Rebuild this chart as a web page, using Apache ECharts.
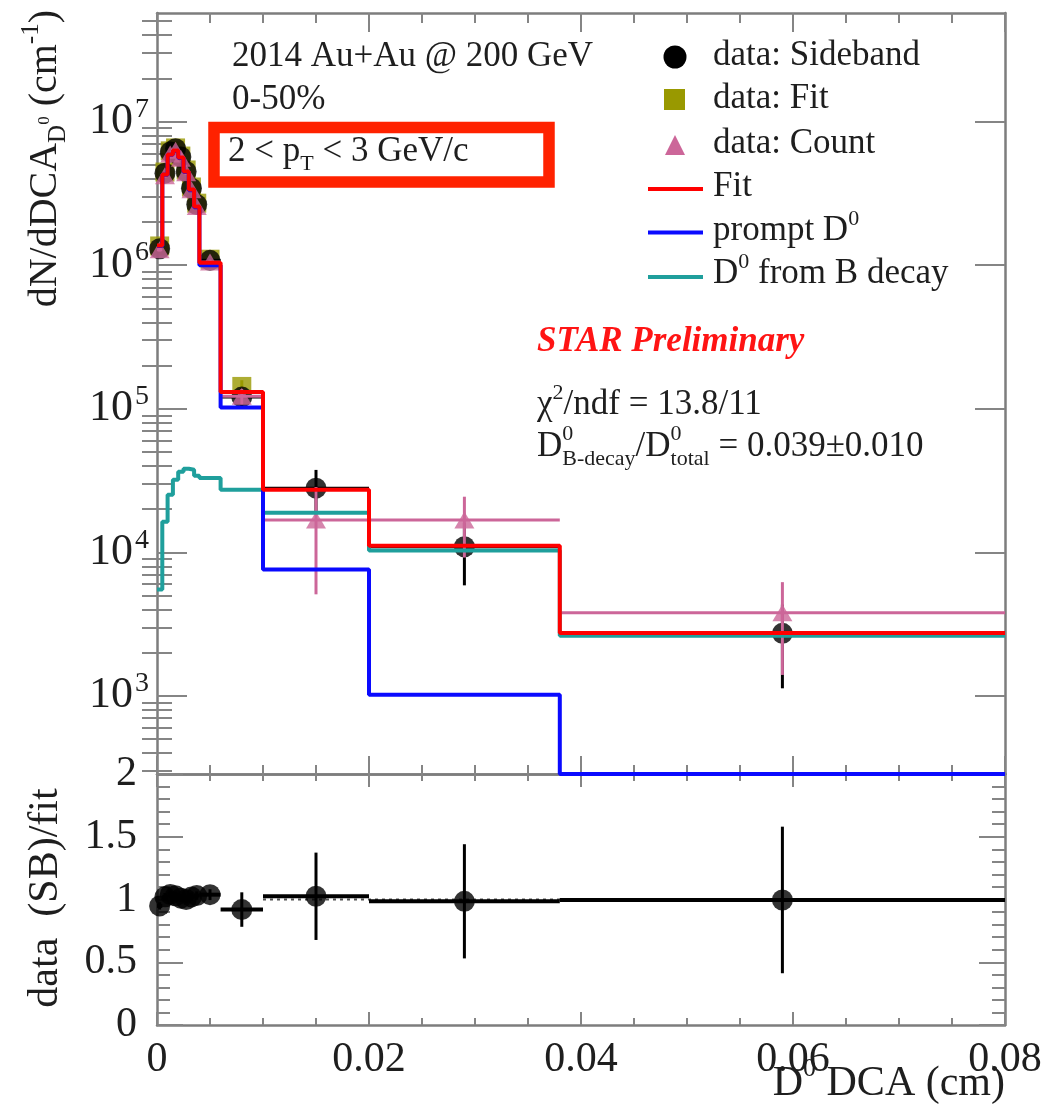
<!DOCTYPE html>
<html>
<head>
<meta charset="utf-8">
<script src="https://cdn.jsdelivr.net/npm/echarts@6.0.0/dist/echarts.min.js"></script>
<style>
html,body{margin:0;padding:0;background:#ffffff;}
#chart{width:1058px;height:1106px;}
</style>
</head>
<body>
<div id="chart"></div>
<script>
// ---------------- data ----------------
const binEdges   = [0, 0.0005, 0.001, 0.0015, 0.002, 0.0025, 0.003, 0.0035, 0.004, 0.006, 0.01, 0.02, 0.038, 0.08];
const binCenters = [0.00025, 0.00075, 0.00125, 0.00175, 0.00225, 0.00275, 0.00325, 0.00375, 0.005, 0.008, 0.015, 0.029, 0.059];

// template fit histograms
const fitTotal  = [1.37e6, 4.28e6, 5.89e6, 6.28e6, 5.61e6, 4.49e6, 3.36e6, 2.56e6, 1.04e6, 1.31e5, 2.73e4, 1.11e4, 2.74e3];
const fitPrompt = [1.36e6, 4.26e6, 5.86e6, 6.24e6, 5.57e6, 4.45e6, 3.32e6, 2.53e6, 1.0e6, 1.02e5, 7.6e3, 1.02e3, 1.2e2];
const fitBDecay = [5.5e3, 1.63e4, 2.52e4, 3.2e4, 3.64e4, 3.82e4, 3.76e4, 3.41e4, 3.3e4, 2.73e4, 1.89e4, 1.03e4, 2.62e3];

// data points
const sidebandVal = [1.30e6, 4.37e6, 6.13e6, 6.47e6, 5.67e6, 4.49e6, 3.43e6, 2.64e6, 1.08e6, 1.205e5, 2.80e4, 1.094e4, 2.73e3];
const sidebandErr = [4.0e4, 1.3e5, 1.8e5, 1.9e5, 1.7e5, 1.4e5, 1.1e5, 8.5e4, 4.5e4, 1.8e4, 9.5e3, 5.05e3, 1.6e3];
const fitDataVal  = [1.36e6, 4.45e6, 6.25e6, 6.55e6, 5.75e6, 4.6e6, 3.5e6, 2.7e6, 1.1e6, 1.43e5, null, null, null];
const fitDataErr  = [3.5e4, 1.2e5, 1.6e5, 1.7e5, 1.5e5, 1.2e5, 1.0e5, 8.0e4, 4.0e4, 1.5e4, null, null, null];
const countVal    = [1.28e6, 4.2e6, 5.95e6, 6.3e6, 5.55e6, 4.4e6, 3.35e6, 2.56e6, 1.05e6, 1.22e5, 1.68e4, 1.68e4, 3.8e3];
const countErr    = [3.5e4, 1.2e5, 1.7e5, 1.8e5, 1.6e5, 1.3e5, 1.0e5, 8.0e4, 4.0e4, 1.5e4, 1.17e4, 7.6e3, 2.4e3];

// axes
const xTicks = [0, 0.02, 0.04, 0.06, 0.08];
const yMajorTicks = [1e3, 1e4, 1e5, 1e6, 1e7];
const ratioTicks = [0, 0.5, 1, 1.5, 2];
const yMin = 286, yMax = 5.7e7;

// ---------------- styling ----------------
const SERIF = 'Liberation Serif';
const TXT = '#1e1e1e';
const FRAME = '#7d7d7d';
const TICK = '#858585';
const C_RED = '#ff0000', C_BLUE = '#0a0aff', C_TEAL = '#1f9f9c', C_PINK = '#cc6699', C_OLIVE = '#999900';

const yMinorTicks = [];
for (let e = 2; e <= 7; e++) for (let m = 2; m <= 9; m++) {
  const v = m * Math.pow(10, e);
  if (v > yMin && v < yMax) yMinorTicks.push(v);
}

function stepData(vals, floor) {
  const d = vals.map((v, i) => [binEdges[i], Math.max(v, floor)]);
  d.push([binEdges[vals.length], Math.max(vals[vals.length - 1], floor)]);
  return d;
}
function pointData(vals) {
  const d = [];
  vals.forEach((v, i) => { if (v != null) d.push([binCenters[i], v]); });
  return d;
}
function errData(vals, errs) {
  const d = [];
  vals.forEach((v, i) => { if (v != null) d.push([binCenters[i], v, errs[i], binEdges[i], binEdges[i + 1]]); });
  return d;
}
function errSeries(xi, yi, data, color, wV, wH, floor, z) {
  return {
    type: 'custom', xAxisIndex: xi, yAxisIndex: yi, data: data, clip: true, z: z, silent: true,
    renderItem: function (params, api) {
      const x = api.value(0), y = api.value(1), e = api.value(2);
      const a = api.coord([x, y + e]);
      const b = api.coord([x, Math.max(y - e, floor)]);
      const children = [{ type: 'line', shape: { x1: a[0], y1: a[1], x2: b[0], y2: b[1] }, style: { stroke: color, lineWidth: wV } }];
      if (wH > 0) {
        const l = api.coord([api.value(3), y]), r = api.coord([api.value(4), y]);
        children.push({ type: 'line', shape: { x1: l[0], y1: l[1], x2: r[0], y2: r[1] }, style: { stroke: color, lineWidth: wH } });
      }
      return { type: 'group', children: children };
    }
  };
}

const ratioVal = sidebandVal.map((v, i) => v / fitTotal[i]);
const ratioErr = sidebandErr.map((e, i) => e / fitTotal[i]);

// ---------------- axes ----------------
const frameLine = { show: true, onZero: false, lineStyle: { color: FRAME, width: 2.5 } };
function xAx(grid, pos, major, minor, showLabel) {
  return {
    type: 'value', gridIndex: grid, position: pos, min: xTicks[0], max: xTicks[xTicks.length - 1], interval: xTicks[1] - xTicks[0],
    axisLine: frameLine,
    axisTick: { show: true, inside: true, length: major, lineStyle: { color: TICK, width: 2 } },
    minorTick: { show: true, splitNumber: 4, length: minor, lineStyle: { color: TICK, width: 2 } },
    splitLine: { show: false }, minorSplitLine: { show: false },
    axisLabel: showLabel ? {
      show: true, margin: 14, color: TXT, fontFamily: SERIF, fontSize: 42,
      formatter: v => String(+v.toFixed(3))
    } : { show: false }
  };
}
function yLogAx(pos, ticks, len, showLabel, showLine) {
  return {
    type: 'log', logBase: 10, gridIndex: 0, position: pos, min: yMin, max: yMax,
    axisLine: showLine ? frameLine : { show: false },
    axisTick: { show: true, inside: true, length: len, customValues: ticks, lineStyle: { color: TICK, width: 2 } },
    minorTick: { show: false }, splitLine: { show: false },
    axisLabel: showLabel ? {
      show: true, margin: 8, customValues: ticks,
      formatter: v => '{b|10}{s|' + Math.round(Math.log10(v)) + '}',
      rich: {
        b: { fontFamily: SERIF, fontSize: 44, lineHeight: 52, color: TXT },
        s: { fontFamily: SERIF, fontSize: 28, lineHeight: 28, color: TXT, verticalAlign: 'top', padding: [0, 0, 0, 2] }
      }
    } : { show: false }
  };
}
function yRatioAx(pos, showLabel) {
  return {
    type: 'value', gridIndex: 1, position: pos, min: ratioTicks[0], max: ratioTicks[ratioTicks.length - 1], interval: ratioTicks[1] - ratioTicks[0],
    axisLine: frameLine,
    axisTick: { show: true, inside: true, length: 26, lineStyle: { color: TICK, width: 2 } },
    minorTick: { show: true, splitNumber: 5, length: 13, lineStyle: { color: TICK, width: 2 } },
    splitLine: { show: false }, minorSplitLine: { show: false },
    axisLabel: showLabel ? { show: true, margin: 20, color: TXT, fontFamily: SERIF, fontSize: 42, formatter: v => String(v) } : { show: false }
  };
}

// ---------------- text helpers ----------------
function rich(sz) {
  const s = Math.round(sz * 0.62);
  return {
    n: { fontFamily: SERIF, fontSize: sz, lineHeight: Math.round(sz * 1.3), fill: TXT },
    sup: { fontFamily: SERIF, fontSize: s, lineHeight: s, verticalAlign: 'top', fill: TXT },
    sub: { fontFamily: SERIF, fontSize: s, lineHeight: s, verticalAlign: 'bottom', fill: TXT },
    ss: { fontFamily: SERIF, fontSize: Math.round(sz * 0.42), lineHeight: Math.round(sz * 0.42), verticalAlign: 'middle', fill: TXT }
  };
}
function txt(x, y, text, sz, opts) {
  opts = opts || {};
  return {
    type: 'text', x: x, y: y, rotation: opts.rot || 0, z: 50,
    style: {
      text: text, rich: rich(sz), fontFamily: SERIF, fontSize: sz, fill: opts.fill || TXT,
      fontStyle: opts.fontStyle || 'normal', fontWeight: opts.fontWeight || 'normal',
      align: opts.align || 'left', textAlign: opts.align || 'left',
      verticalAlign: 'middle', textVerticalAlign: 'middle'
    }
  };
}
const mctx = document.createElement('canvas').getContext('2d');
function tw(str, size) { mctx.font = size + 'px "' + SERIF + '"'; return mctx.measureText(str).width; }

const LX = 713;
const dLineX = 537, dLineY = 447;
const sup0a = dLineX + tw('D', 35);
const sup0b = sup0a + tw('B-decay', 22) + tw('/D', 35);

const graphics = [
  txt(232, 57, '2014 Au+Au @ 200 GeV', 35),
  txt(232, 100, '0-50%', 35),
  txt(228, 152, '{n|2 < p}{sub|T}{n| < 3 GeV/c}', 35),
  { type: 'rect', z: 50, shape: { x: 214, y: 127.5, width: 335, height: 54.5 }, style: { fill: 'none', stroke: '#ff2200', lineWidth: 11.5 } },
  // legend
  { type: 'circle', z: 50, shape: { cx: 675, cy: 57, r: 11.5 }, style: { fill: '#000' } },
  { type: 'rect', z: 50, shape: { x: 664, y: 89, width: 21, height: 21 }, style: { fill: C_OLIVE } },
  { type: 'polygon', z: 50, shape: { points: [[665, 155], [685, 155], [675, 135]] }, style: { fill: C_PINK } },
  { type: 'line', z: 50, shape: { x1: 648, y1: 189, x2: 703, y2: 189 }, style: { stroke: C_RED, lineWidth: 4 } },
  { type: 'line', z: 50, shape: { x1: 648, y1: 232.5, x2: 703, y2: 232.5 }, style: { stroke: C_BLUE, lineWidth: 4 } },
  { type: 'line', z: 50, shape: { x1: 648, y1: 277, x2: 703, y2: 277 }, style: { stroke: C_TEAL, lineWidth: 4 } },
  txt(LX, 56, 'data: Sideband', 35),
  txt(LX, 99, 'data: Fit', 35),
  txt(LX, 144, 'data: Count', 35),
  txt(LX, 187, 'Fit', 35),
  txt(LX, 231, '{n|prompt D}{sup|0}', 35),
  txt(LX, 274, '{n|D}{sup|0}{n| from B decay}', 35),
  // annotations
  txt(537, 342, 'STAR Preliminary', 35, { fill: '#ff1414', fontStyle: 'italic', fontWeight: 'bold' }),
  txt(537, 405, '{n|χ}{sup|2}{n|/ndf = 13.8/11}', 35),
  txt(dLineX, dLineY, '{n|D}{sub|B-decay}{n|/D}{sub|total}{n| = 0.039±0.010}', 35),
  txt(sup0a, dLineY - 13, '0', 22),
  txt(sup0b, dLineY - 13, '0', 22),
  // axis titles
  txt(45, 10, '{n|dN/dDCA}{sub|D}{ss|0}{n| (cm}{sup|-1}{n|)}', 40, { rot: Math.PI / 2, align: 'right' }),
  txt(46, 898, 'data  (SB)/fit', 42, { rot: Math.PI / 2, align: 'center' }),
  txt(1005, 1084, '{n|D}{sup|0}{n| DCA (cm)}', 42, { align: 'right' })
];

// ---------------- chart ----------------
const chart = echarts.init(document.getElementById('chart'), null, { renderer: 'canvas' });
chart.setOption({
  backgroundColor: '#ffffff',
  animation: false,
  grid: [
    { left: 157, right: 53, top: 13, height: 761, containLabel: false, outerBoundsMode: 'none' },
    { left: 157, right: 53, top: 774, height: 251, containLabel: false, outerBoundsMode: 'none' }
  ],
  xAxis: [
    xAx(0, 'bottom', 18, 9, false),
    xAx(0, 'top', 19, 10, false),
    xAx(1, 'bottom', 13, 7, true),
    xAx(1, 'top', 13, 7, false)
  ],
  yAxis: [
    yLogAx('left', yMajorTicks, 30, true, true),
    yLogAx('left', yMinorTicks, 15, false, false),
    yLogAx('right', yMajorTicks, 30, false, true),
    yLogAx('right', yMinorTicks, 15, false, false),
    yRatioAx('left', true),
    yRatioAx('right', false)
  ],
  graphic: graphics,
  series: [
    // data: Fit (olive squares)
    errSeries(0, 0, errData(fitDataVal, fitDataErr), C_OLIVE, 3, 0, yMin * 0.5, 2),
    { type: 'scatter', xAxisIndex: 0, yAxisIndex: 0, data: pointData(fitDataVal), symbol: 'rect', symbolSize: 19, itemStyle: { color: C_OLIVE }, z: 3, silent: true },
    // data: Sideband (black circles)
    errSeries(0, 0, errData(sidebandVal, sidebandErr), '#000', 3, 3, yMin * 0.5, 4),
    { type: 'scatter', xAxisIndex: 0, yAxisIndex: 0, data: pointData(sidebandVal), symbol: 'circle', symbolSize: 21, itemStyle: { color: '#000' }, z: 5, silent: true },
    // data: Count (pink triangles)
    errSeries(0, 0, errData(countVal, countErr), C_PINK, 3, 3, yMin * 0.5, 6),
    { type: 'scatter', xAxisIndex: 0, yAxisIndex: 0, data: pointData(countVal), symbol: 'triangle', symbolSize: [20, 17], itemStyle: { color: C_PINK }, z: 7, silent: true },
    // template histograms
    { type: 'line', name: 'D0 from B decay', xAxisIndex: 0, yAxisIndex: 0, data: stepData(fitBDecay, yMin), step: 'end', symbol: 'none', lineStyle: { color: C_TEAL, width: 4 }, clip: true, z: 8, silent: true },
    { type: 'line', name: 'prompt D0', xAxisIndex: 0, yAxisIndex: 0, data: stepData(fitPrompt, yMin), step: 'end', symbol: 'none', lineStyle: { color: C_BLUE, width: 4 }, clip: true, z: 9, silent: true },
    { type: 'line', name: 'Fit', xAxisIndex: 0, yAxisIndex: 0, data: stepData(fitTotal, yMin), step: 'end', symbol: 'none', lineStyle: { color: C_RED, width: 4 }, clip: true, z: 10, silent: true },
    // ratio panel
    { type: 'line', xAxisIndex: 2, yAxisIndex: 4, data: [[binEdges[10], 1], [binEdges[13], 1]], symbol: 'none', lineStyle: { color: '#555', width: 2, type: [3, 4] }, z: 2, silent: true },
    errSeries(2, 4, errData(ratioVal, ratioErr), '#000', 3, 4, 0, 4),
    { type: 'scatter', xAxisIndex: 2, yAxisIndex: 4, data: pointData(ratioVal), symbol: 'circle', symbolSize: 21, itemStyle: { color: '#000' }, z: 5, silent: true }
  ]
});
</script>
</body>
</html>
